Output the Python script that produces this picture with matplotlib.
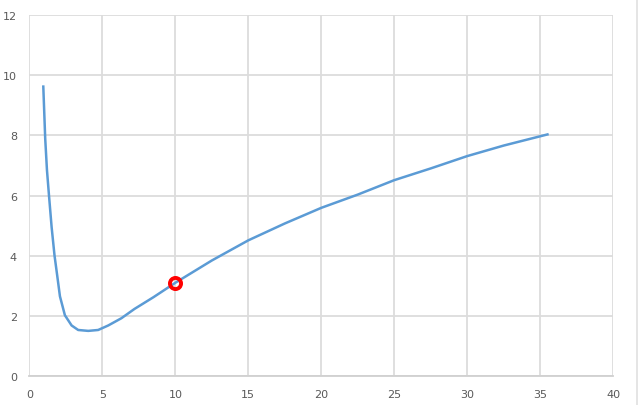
import matplotlib.pyplot as plt
from matplotlib.lines import Line2D

# значения
xValues = [0.95, 1.08, 1.2, 1.34, 1.52, 1.72, 1.9, 2.09, 2.43, 2.89, 3.34,
           4.03, 4.71, 5.40, 6.3, 7.2, 8.5, 10, 12.5, 15, 17.5, 20, 22.5,
           25, 27.5, 30, 32.5, 35.5]
yValues = [9.62, 7.9, 6.85, 6.0, 4.95, 4.0, 3.35, 2.65, 2.02, 1.68, 1.53,
           1.50, 1.53, 1.68, 1.92, 2.23, 2.62, 3.1, 3.84, 4.51, 5.07, 5.59, 6.03,
           6.51, 6.9, 7.31, 7.66, 8.03]
markX = [10]
markY = [3.1]
xTicks = [0, 5, 10, 15, 20, 25, 30, 35, 40]
yTicks = [0, 2, 4, 6, 8, 10, 12]

fig = plt.figure(figsize=(6.4, 4.06), dpi=100)
ax = fig.add_axes([0.046, 0.0714, 0.912, 0.8892])

ax.plot(xValues, yValues, "-", color="#5b9bd5", lw=1.8, zorder=3,
        solid_joinstyle="round")
ax.plot(markX, markY, "o", ms=8, mfc="none", mec="#ff0000", mew=2.8, zorder=4)

ax.set_xlim(0, 40)
ax.set_ylim(0, 12)
ax.set_xticks(xTicks)
ax.set_yticks(yTicks)
ax.grid(True, color="#dcdcdc", lw=1.3)
ax.set_axisbelow(True)
for side in ["top", "right", "left"]:
    ax.spines[side].set_visible(False)
ax.spines["bottom"].set_color("#d0d0d0")
ax.spines["bottom"].set_linewidth(1.3)
ax.tick_params(length=0, labelsize=8, labelcolor="#595959", pad=9)

# рамка справа
fig.add_artist(Line2D([0.995, 0.995], [0, 1], color="#e0e0e0", lw=1.2))

fig.savefig("out.png", dpi=100)
